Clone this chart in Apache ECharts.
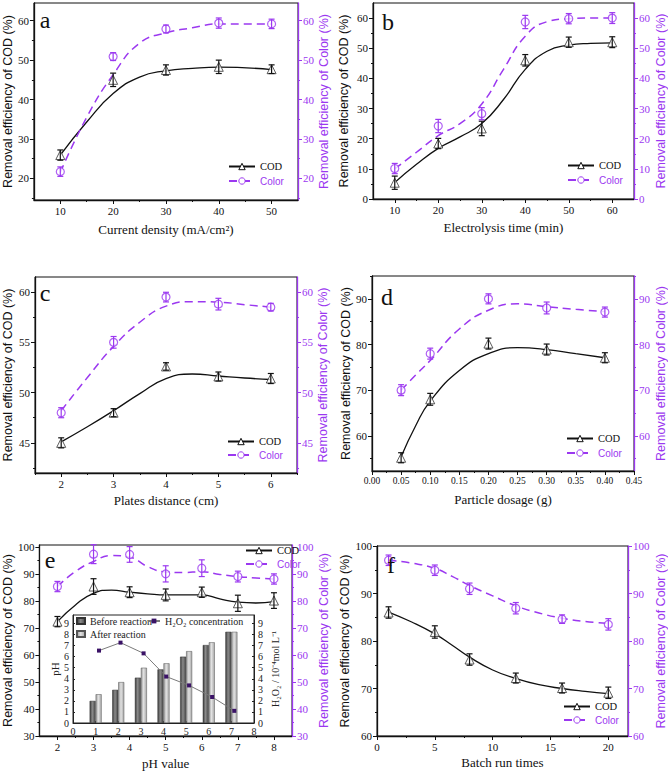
<!DOCTYPE html>
<html><head><meta charset="utf-8">
<script src="https://cdn.jsdelivr.net/npm/echarts@6/dist/echarts.min.js"></script>
<style>html,body{margin:0;padding:0;background:#fff}#c{width:668px;height:772px}</style>
</head><body><div id="c"></div>
<script>
// ---------- Panel a ----------
const aX = [10, 20, 30, 40, 50];
const aCOD = [25.9, 45, 47.5, 48.3, 47.7];
const aCODErr = [1.3, 1.7, 1.3, 1.7, 1.1];
const aColor = [21.7, 50.9, 57.9, 59.4, 59.2];
const aColorErr = [1.2, 1, 1, 1.3, 1.2];
const aFitX = [10, 15, 20, 25, 30, 35, 40, 50];
const aCODFit = [25.9, 34.3, 41.5, 45.7, 47.3, 47.9, 48.2, 47.6];
const aColorFit = [21.5, 35.5, 46.3, 54.3, 56.9, 58.2, 59.2, 59.2];
const aXTicks = [10, 20, 30, 40, 50], aXMinor = [15, 25, 35, 45];
const aYTicks = [20, 30, 40, 50, 60], aYMinor = [15, 25, 35, 45, 55];

// ---------- Panel b ----------
const bX = [10, 20, 30, 40, 50, 60];
const bCOD = [5.4, 18.4, 23.4, 46, 52, 52];
const bCODErr = [2.2, 1.7, 2.4, 1.9, 1.7, 1.8];
const bColor = [10.1, 24.2, 28.3, 58.7, 59.8, 60];
const bColorErr = [1.7, 2.2, 2, 2.2, 1.7, 1.8];
const bFitX = [10, 15, 20, 25, 30, 35, 40, 45, 50, 55, 60];
const bCODFit = [5.5, 11.5, 16.8, 20.6, 25, 33, 43, 49, 51, 51.6, 51.8];
const bColorFit = [10, 15.5, 21, 25, 31.5, 43, 54, 58.8, 59.8, 60, 60];
const bXTicks = [10, 20, 30, 40, 50, 60], bXMinor = [15, 25, 35, 45, 55];
const bYTicks = [0, 10, 20, 30, 40, 50, 60], bYMinor = [5, 15, 25, 35, 45, 55];

// ---------- Panel c ----------
const cX = [2, 3, 4, 5, 6];
const cCOD = [45, 48, 52.6, 51.6, 51.4];
const cCODErr = [0.5, 0.4, 0.37, 0.45, 0.5];
const cColor = [48, 55, 59.5, 58.8, 58.5];
const cColorErr = [0.5, 0.58, 0.48, 0.58, 0.38];
const cFitX = [2, 2.5, 3, 3.5, 4, 4.5, 5, 5.5, 6];
const cCODFit = [45.1, 46.6, 48.2, 49.9, 51.4, 51.85, 51.65, 51.45, 51.3];
const cColorFit = [48.2, 51.5, 54.6, 57, 58.6, 59.05, 59, 58.75, 58.5];
const cXTicks = [2, 3, 4, 5, 6], cXMinor = [1.5, 2.5, 3.5, 4.5, 5.5, 6.5];
const cYTicks = [45, 50, 55, 60], cYMinor = [42.5, 47.5, 52.5, 57.5];

// ---------- Panel d ----------
const dX = [0.05, 0.1, 0.2, 0.3, 0.4];
const dCOD = [55.2, 68, 80.2, 78.9, 77.1];
const dCODErr = [1.1, 1.3, 1.2, 1.2, 1.1];
const dColor = [70, 78, 90, 88, 87.1];
const dColorErr = [1.2, 1.2, 1.1, 1.3, 1.1];
const dFitX = [0.05, 0.075, 0.1, 0.15, 0.2, 0.25, 0.3, 0.35, 0.4];
const dCODFit = [55.4, 62.2, 67.6, 74.3, 78, 79.3, 78.9, 78, 77.1];
const dColorFit = [70, 73.3, 76.5, 83.4, 87.5, 88.9, 88.3, 87.7, 87.2];
const dXTicks = [0, 0.05, 0.1, 0.15, 0.2, 0.25, 0.3, 0.35, 0.4, 0.45];
const dXMinor = [0.025, 0.075, 0.125, 0.175, 0.225, 0.275, 0.325, 0.375, 0.425];
const dYTicks = [60, 70, 80, 90], dYMinor = [55, 65, 75, 85, 95];

// ---------- Panel e ----------
const eX = [2, 3, 4, 5, 6, 7, 8];
const eCOD = [72.4, 85.4, 83.3, 82.3, 83.3, 79.2, 80.2];
const eCODErr = [1.9, 2.9, 2, 2.2, 1.9, 3, 2.9];
const eColor = [85.4, 97.4, 97.3, 90.1, 92.2, 89.1, 88.2];
const eColorErr = [1.9, 3.5, 2.9, 3, 3.1, 2, 1.9];
const eFitX = [2, 2.5, 3, 3.5, 4, 4.5, 5, 5.5, 6, 6.5, 7, 7.5, 8];
const eCODFit = [72.4, 78.6, 82.9, 84.1, 83.3, 82.7, 82.3, 82.3, 82.3, 80.8, 79.6, 79.3, 79.8];
const eColorFit = [85.4, 91, 94.7, 96.9, 96.3, 92.8, 90.8, 90.6, 90.9, 89.9, 89.1, 88.6, 88.2];
const eXTicks = [2, 3, 4, 5, 6, 7, 8], eXMinor = [2.5, 3.5, 4.5, 5.5, 6.5, 7.5];
const eYTicks = [30, 40, 50, 60, 70, 80, 90, 100], eYMinor = [35, 45, 55, 65, 75, 85, 95];

// ---------- Panel e inset ----------
const insetX = [1, 2, 3, 4, 5, 6, 7];
const phBefore = [2, 3, 4.1, 4.85, 6, 7.05, 8.25];
const phAfter = [2.6, 3.7, 5, 5.4, 6.5, 7.3, 8.25];
const h2o2X = [1.15, 2.1, 3.12, 4.12, 5.13, 6.15, 7.13];
const h2o2 = [6.55, 7.27, 6.3, 4.2, 3.4, 2.35, 1.1];
const insetXTicks = [0, 1, 2, 3, 4, 5, 6, 7, 8];
const insetYTicks = [0, 1, 2, 3, 4, 5, 6, 7, 8, 9];

// ---------- Panel f ----------
const fX = [1, 5, 8, 12, 16, 20];
const fCOD = [86, 81.9, 76.1, 72.2, 70.1, 69.1];
const fCODErr = [1.2, 1.3, 1.2, 1.05, 1.05, 1.2];
const fColor = [97, 94.9, 91, 86.9, 84.6, 83.5];
const fColorErr = [1.1, 1.1, 1.2, 1.2, 0.9, 1.2];
const fFitX = [1, 3, 5, 6.5, 8, 10, 12, 14, 16, 18, 20];
const fCODFit = [86.1, 84, 81.5, 79.1, 76.6, 73.9, 72.1, 70.8, 70, 69.4, 68.9];
const fColorFit = [97, 96.4, 95.3, 93.6, 91.7, 89.5, 87.4, 85.9, 84.8, 84.1, 83.7];
const fXTicks = [0, 5, 10, 15, 20], fXMinor = [2.5, 7.5, 12.5, 17.5];
const fYTicks = [60, 70, 80, 90, 100], fYMinor = [65, 75, 85, 95];

// ---------- styling / layout ----------
const purple = '#9b38f0';
const ink = '#111';
const serif = "'Liberation Serif','Times New Roman',serif";
const sans = "'Liberation Sans',Arial,sans-serif";
const yTitleL = 'Removal efficiency of COD (%)';
const yTitleR = 'Removal efficiency of Color (%)';

const pairs = (xs, ys) => xs.map((x, i) => [x, ys[i]]);
const errs = (xs, ys, es) => xs.map((x, i) => [x, ys[i] - es[i], ys[i] + es[i]]);

const panels = [
  {letter: 'a', lp: [45, 20], g: [33, 3, 265, 197], x: [5, 55], y: [14.5, 64.5],
   xT: aXTicks, xM: aXMinor, yT: aYTicks, yM: aYMinor, xName: 'Current density (mA/cm²)',
   gaps: [23, 19, 18], leg: [228, 161, 4],
   X: aX, cod: aCOD, codE: aCODErr, col: aColor, colE: aColorErr, fx: aFitX, cf: aCODFit, kf: aColorFit},
  {letter: 'b', lp: [388, 22], g: [373, 3, 263, 196], x: [5, 65], y: [0, 65],
   xT: bXTicks, xM: bXMinor, yT: bYTicks, yM: bYMinor, xName: 'Electrolysis time (min)',
   gaps: [22, 23, 20], leg: [567, 160, 4],
   X: bX, cod: bCOD, codE: bCODErr, col: bColor, colE: bColorErr, fx: bFitX, cf: bCODFit, kf: bColorFit},
  {letter: 'c', lp: [45, 293], g: [33, 277, 264, 196], x: [1.5, 6.5], y: [42, 61.5],
   xT: cXTicks, xM: cXMinor, yT: cYTicks, yM: cYMinor, xName: 'Plates distance (cm)',
   gaps: [21, 21, 17], leg: [227, 436, 3],
   X: cX, cod: cCOD, codE: cCODErr, col: cColor, colE: cColorErr, fx: cFitX, cf: cCODFit, kf: cColorFit},
  {letter: 'd', lp: [387, 297], g: [372, 276, 264, 195], x: [0, 0.45], y: [52.3, 95],
   xT: dXTicks, xM: dXMinor, yT: dYTicks, yM: dYMinor, xName: 'Particle dosage (g)',
   gaps: [22, 18, 20], leg: [566, 433, 4], xFmt: v => v.toFixed(2), xFont: 9.5,
   X: dX, cod: dCOD, codE: dCODErr, col: dColor, colE: dColorErr, fx: dFitX, cf: dCODFit, kf: dColorFit},
  {letter: 'e', lp: [50, 560], g: [37, 545, 255, 191], x: [1.5, 8.5], y: [30, 100.8],
   xT: eXTicks, xM: eXMinor, yT: eYTicks, yM: eYMinor, xName: 'pH value',
   gaps: [21, 24, 23], leg: [245, 545, 3],
   X: eX, cod: eCOD, codE: eCODErr, col: eColor, colE: eColorErr, fx: eFitX, cf: eCODFit, kf: eColorFit},
  {letter: 'f', lp: [391, 565], g: [377, 546, 253, 190], x: [0, 21.7], y: [60, 100],
   xT: fXTicks, xM: fXMinor, yT: fYTicks, yM: fYMinor, xName: 'Batch run times',
   gaps: [20, 23, 26], leg: [563, 701, 3],
   X: fX, cod: fCOD, codE: fCODErr, col: fColor, colE: fColorErr, fx: fFitX, cf: fCODFit, kf: fColorFit}
];

const option = {animation: false, grid: [], xAxis: [], yAxis: [], series: [], legend: [], graphic: []};

function errRender(color) {
  return function (params, api) {
    const x = api.value(0);
    const p1 = api.coord([x, api.value(1)]);
    const p2 = api.coord([x, api.value(2)]);
    const w = 3;
    const style = {stroke: color, lineWidth: 1.2, fill: null};
    return {type: 'group', children: [
      {type: 'line', shape: {x1: p1[0], y1: p1[1], x2: p2[0], y2: p2[1]}, style: style},
      {type: 'line', shape: {x1: p1[0] - w, y1: p1[1], x2: p1[0] + w, y2: p1[1]}, style: style},
      {type: 'line', shape: {x1: p2[0] - w, y1: p2[1], x2: p2[0] + w, y2: p2[1]}, style: style}
    ]};
  };
}

function axisPair(list, base, ticks, minor, labelCfg, lineColor, lineShow) {
  const i = list.length;
  list.push(Object.assign({}, base, {
    axisLine: {show: lineShow, onZero: false, lineStyle: {color: lineColor, width: 1.3}},
    axisTick: {show: true, customValues: ticks, length: 4, lineStyle: {color: lineColor, width: 1}},
    axisLabel: labelCfg,
    splitLine: {show: false}
  }));
  list.push(Object.assign({}, base, {
    name: '',
    axisLine: {show: false, onZero: false},
    axisTick: {show: true, customValues: minor, length: 2, lineStyle: {color: lineColor, width: 1}},
    axisLabel: {show: false},
    splitLine: {show: false}
  }));
  return i;
}

panels.forEach(p => {
  const gi = option.grid.length;
  option.grid.push({left: p.g[0], top: p.g[1], width: p.g[2], height: p.g[3], show: true,
    borderColor: ink, borderWidth: 1, backgroundColor: 'transparent'});
  const xi = axisPair(option.xAxis,
    {type: 'value', gridIndex: gi, min: p.x[0], max: p.x[1], position: 'bottom',
     name: p.xName, nameLocation: 'middle', nameGap: p.gaps[0],
     nameTextStyle: {fontFamily: serif, fontSize: 13, color: ink}},
    p.xT, p.xM,
    {customValues: p.xT, fontFamily: serif, fontSize: p.xFont || 11, color: ink, margin: 5,
     formatter: p.xFmt || (v => String(v))}, ink, true);
  const yl = axisPair(option.yAxis,
    {type: 'value', gridIndex: gi, min: p.y[0], max: p.y[1], position: 'left',
     name: yTitleL, nameLocation: 'middle', nameRotate: 90, nameGap: p.gaps[1],
     nameTextStyle: {fontFamily: sans, fontSize: 12.5, color: ink}},
    p.yT, p.yM,
    {customValues: p.yT, fontFamily: serif, fontSize: 11, color: ink, margin: 5}, ink, true);
  const yr = axisPair(option.yAxis,
    {type: 'value', gridIndex: gi, min: p.y[0], max: p.y[1], position: 'right',
     name: yTitleR, nameLocation: 'middle', nameRotate: 90, nameGap: p.gaps[2],
     nameTextStyle: {fontFamily: sans, fontSize: 12.5, color: purple}},
    p.yT, p.yM,
    {customValues: p.yT, fontFamily: serif, fontSize: 11, color: purple, margin: 5}, purple, true);

  option.series.push(
    {type: 'line', name: 'COD', xAxisIndex: xi, yAxisIndex: yl, data: pairs(p.fx, p.cf),
     smooth: 0.5, symbol: 'triangle', showSymbol: false, silent: true, z: 2,
     lineStyle: {color: ink, width: 1.3},
     itemStyle: {color: '#fff', borderColor: ink, borderWidth: 1}},
    {type: 'line', name: 'Color', xAxisIndex: xi, yAxisIndex: yr, data: pairs(p.fx, p.kf),
     smooth: 0.5, symbol: 'circle', showSymbol: false, silent: true, z: 2,
     lineStyle: {color: purple, width: 1.5, type: [8, 5]},
     itemStyle: {color: '#fff', borderColor: purple, borderWidth: 1}},
    {type: 'scatter', name: 'COD points ' + p.letter, xAxisIndex: xi, yAxisIndex: yl,
     data: pairs(p.X, p.cod), symbol: 'triangle', symbolSize: 9, z: 3, silent: true,
     itemStyle: {color: '#fff', borderColor: '#333', borderWidth: 1}},
    {type: 'scatter', name: 'Color points ' + p.letter, xAxisIndex: xi, yAxisIndex: yr,
     data: pairs(p.X, p.col), symbol: 'circle', symbolSize: 8, z: 3, silent: true,
     itemStyle: {color: '#fff', borderColor: purple, borderWidth: 1.2}},
    {type: 'custom', name: 'COD error ' + p.letter, xAxisIndex: xi, yAxisIndex: yl,
     data: errs(p.X, p.cod, p.codE), encode: {x: 0, y: [1, 2]}, renderItem: errRender(ink), z: 4, silent: true},
    {type: 'custom', name: 'Color error ' + p.letter, xAxisIndex: xi, yAxisIndex: yr,
     data: errs(p.X, p.col, p.colE), encode: {x: 0, y: [1, 2]}, renderItem: errRender(purple), z: 4, silent: true}
  );

  option.legend.push({
    left: p.leg[0], top: p.leg[1], orient: 'vertical', itemGap: p.leg[2], itemWidth: 26, itemHeight: 8,
    padding: 0, selectedMode: false, itemStyle: {borderWidth: 1},
    data: [
      {name: 'COD', textStyle: {fontFamily: serif, fontSize: 10.5, color: ink}},
      {name: 'Color', textStyle: {fontFamily: sans, fontSize: 10, color: purple}}
    ]
  });

  option.graphic.push({type: 'text', x: p.lp[0], y: p.lp[1], z: 10,
    style: {text: p.letter, font: '24px ' + serif, fill: ink, align: 'center', verticalAlign: 'middle',
            textAlign: 'center', textVerticalAlign: 'middle'}});
});

// ---------- inset in panel e ----------
const ig = option.grid.length;
option.grid.push({left: 73, top: 615, width: 181, height: 108, show: true,
  borderColor: '#222', borderWidth: 1, backgroundColor: '#fff', z: 5});
const ixi = option.xAxis.length;
option.xAxis.push({type: 'value', gridIndex: ig, min: 0, max: 8, position: 'bottom', z: 6,
  axisLine: {show: true, onZero: false, lineStyle: {color: '#222', width: 1}},
  axisTick: {show: true, inside: true, customValues: insetXTicks, length: 2, lineStyle: {color: '#222'}},
  axisLabel: {customValues: insetXTicks, fontFamily: serif, fontSize: 10, color: '#222', margin: 3},
  splitLine: {show: false}});
const iyl = option.yAxis.length;
option.yAxis.push({type: 'value', gridIndex: ig, min: 0, max: 9.77, position: 'left', z: 6,
  name: 'pH', nameLocation: 'middle', nameRotate: 90, nameGap: 13,
  nameTextStyle: {fontFamily: serif, fontSize: 11, color: '#222'},
  axisLine: {show: true, onZero: false, lineStyle: {color: '#222', width: 1}},
  axisTick: {show: true, inside: true, customValues: insetYTicks, length: 2, lineStyle: {color: '#222'}},
  axisLabel: {customValues: insetYTicks, fontFamily: serif, fontSize: 10, color: '#222', margin: 4},
  splitLine: {show: false}});
const iyr = option.yAxis.length;
option.yAxis.push({type: 'value', gridIndex: ig, min: 0, max: 9.77, position: 'right', z: 6,
  name: 'H₂O₂ / 10⁻⁴mol L⁻¹', nameLocation: 'middle', nameRotate: 90, nameGap: 16,
  nameTextStyle: {fontFamily: serif, fontSize: 10, color: '#222'},
  axisLine: {show: true, onZero: false, lineStyle: {color: '#222', width: 1}},
  axisTick: {show: true, inside: true, customValues: insetYTicks, length: 2, lineStyle: {color: '#222'}},
  axisLabel: {customValues: insetYTicks, fontFamily: serif, fontSize: 10, color: '#222', margin: 4},
  splitLine: {show: false}});

const darkBar = new echarts.graphic.LinearGradient(0, 0, 1, 0, [
  {offset: 0, color: '#3c3c3c'}, {offset: 0.45, color: '#8a8a8a'}, {offset: 1, color: '#4a4a4a'}]);
const lightBar = new echarts.graphic.LinearGradient(0, 0, 1, 0, [
  {offset: 0, color: '#9a9a9a'}, {offset: 0.45, color: '#e2e2e2'}, {offset: 1, color: '#a6a6a6'}]);

option.series.push(
  {type: 'bar', name: 'Before reaction', xAxisIndex: ixi, yAxisIndex: iyl, data: pairs(insetX, phBefore),
   barWidth: 6, barGap: '0%', z: 7, silent: true,
   itemStyle: {color: darkBar, borderColor: '#333', borderWidth: 0.5}},
  {type: 'bar', name: 'After reaction', xAxisIndex: ixi, yAxisIndex: iyl, data: pairs(insetX, phAfter),
   barWidth: 6, barGap: '0%', z: 7, silent: true,
   itemStyle: {color: lightBar, borderColor: '#555', borderWidth: 0.5}},
  {type: 'line', name: 'H₂O₂ concentration', xAxisIndex: ixi, yAxisIndex: iyr, data: pairs(h2o2X, h2o2),
   symbol: 'rect', symbolSize: 4, z: 8, silent: true,
   lineStyle: {color: '#7a7a7a', width: 1}, itemStyle: {color: '#3a1266'}}
);

option.legend.push(
  {left: 76, top: 616, orient: 'vertical', itemGap: 3, itemWidth: 8, itemHeight: 6, padding: 0,
   selectedMode: false, icon: 'rect', z: 9,
   textStyle: {fontFamily: serif, fontSize: 10, color: '#222'},
   data: ['Before reaction', 'After reaction']},
  {left: 147, top: 616, orient: 'vertical', itemWidth: 12, itemHeight: 6, padding: 0,
   selectedMode: false, z: 9,
   textStyle: {fontFamily: serif, fontSize: 10, color: '#222'},
   data: ['H₂O₂ concentration']}
);

const chart = echarts.init(document.getElementById('c'), null, {renderer: 'svg', width: 668, height: 772});
chart.setOption(option);
</script>
</body></html>
